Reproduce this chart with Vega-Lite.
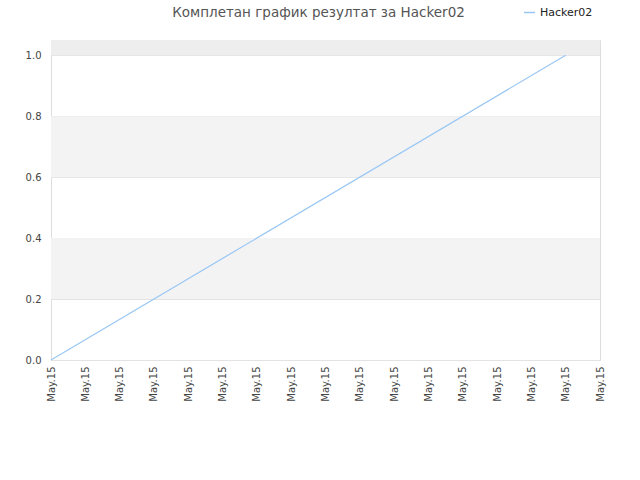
{
  "$schema": "https://vega.github.io/schema/vega-lite/v6.json",
  "autosize": "none",
  "width": 549,
  "height": 320,
  "padding": {"left": 51, "top": 40, "right": 40, "bottom": 120},
  "background": "white",
  "config": {
    "font": "DejaVu Sans",
    "view": {"stroke": "#dddddd"},
    "axis": {"labelColor": "#444444", "labelFontSize": 10, "domain": false, "ticks": false, "gridColor": "#e3e3e3"}
  },
  "title": {"text": "Комплетан график резултат за Hacker02", "fontSize": 13.5, "fontWeight": "normal", "color": "#555555", "anchor": "middle", "offset": 0, "dy": 13, "dx": -7},
  "datasets": {
    "bands": [
      {"lo": 0.2, "hi": 0.4, "shade": "#f3f3f3"},
      {"lo": 0.6, "hi": 0.8, "shade": "#f3f3f3"},
      {"lo": 1.0, "hi": 1.05, "shade": "#eeeeee"}
    ],
    "scores": [
      {"step": 0, "score": 0, "team": "Hacker02"},
      {"step": 15, "score": 1, "team": "Hacker02"}
    ]
  },
  "layer": [
    {
      "data": {"name": "bands"},
      "mark": {"type": "rect"},
      "encoding": {
        "y": {"field": "lo", "type": "quantitative", "scale": {"domain": [0, 1.05], "nice": false}},
        "y2": {"field": "hi"},
        "color": {"field": "shade", "type": "nominal", "scale": null}
      }
    },
    {
      "data": {"name": "scores"},
      "mark": {"type": "line", "strokeWidth": 1.2},
      "encoding": {
        "x": {
          "field": "step", "type": "quantitative",
          "scale": {"domain": [0, 16], "nice": false},
          "axis": {"title": null, "values": [0,1,2,3,4,5,6,7,8,9,10,11,12,13,14,15,16], "labelExpr": "'May.15'", "labelAngle": -90, "labelAlign": "right", "labelBaseline": "middle", "grid": false, "labelPadding": 6}
        },
        "y": {
          "field": "score", "type": "quantitative",
          "scale": {"domain": [0, 1.05], "nice": false},
          "axis": {"title": null, "values": [0, 0.2, 0.4, 0.6, 0.8, 1.0], "format": ".1f", "grid": true, "labelPadding": 10}
        },
        "color": {
          "field": "team", "type": "nominal",
          "scale": {"range": ["#99c7f5"]},
          "legend": {"title": null, "orient": "none", "legendX": 472, "legendY": -34, "symbolType": "stroke", "symbolSize": 120, "symbolStrokeWidth": 1.5, "labelFontSize": 11, "labelColor": "#222222"}
        }
      }
    }
  ]
}
